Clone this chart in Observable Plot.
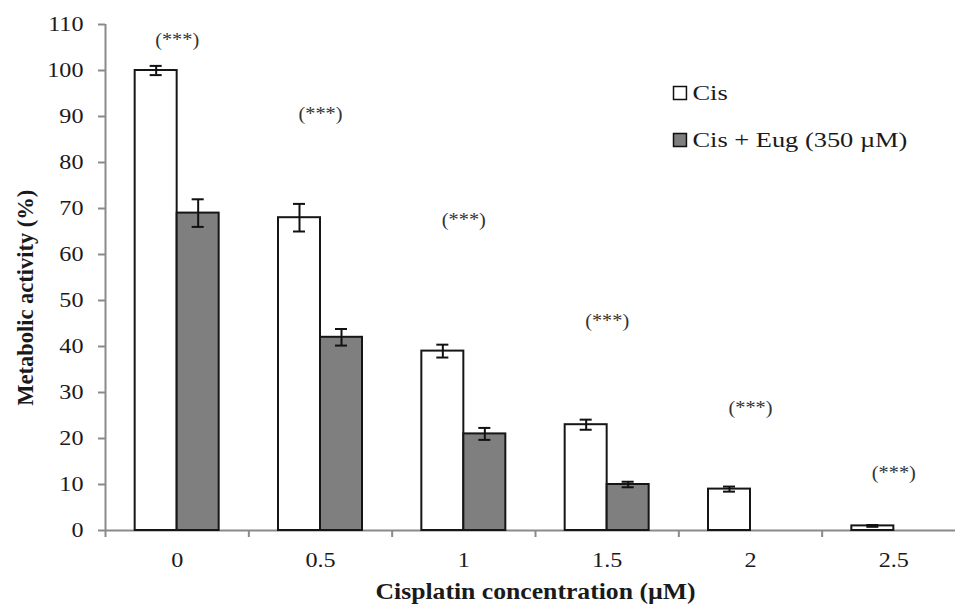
<!DOCTYPE html>
<html>
<head>
<meta charset="utf-8">
<script src="https://cdn.jsdelivr.net/npm/d3@7"></script>
<script src="https://cdn.jsdelivr.net/npm/@observablehq/plot@0.6"></script>
<style>
html, body { margin: 0; padding: 0; background: #ffffff; }
#chart svg { display: block; }
</style>
</head>
<body>
<div id="chart"></div>
<script>
// ---- data ----
const concentrations = ["0", "0.5", "1", "1.5", "2", "2.5"];
const cisValues = [100, 68, 39, 23, 9, 1];
const cisErrors = [1, 3, 1.4, 1.1, 0.55, 0.2];
const eugValues = [69, 42, 21, 10, 0, 0];
const eugErrors = [3, 1.8, 1.3, 0.6, 0, 0];
const seriesNames = ["Cis", "Cis + Eug (350 µM)"];
const seriesFills = ["#ffffff", "#7f7f7f"];
const sigLabels = ["(***)", "(***)", "(***)", "(***)", "(***)", "(***)"];
const sigHeights = [106.5, 90.5, 67.5, 45.5, 26.5, 12.5];
const yTicks = [0, 10, 20, 30, 40, 50, 60, 70, 80, 90, 100, 110];
const yTitle = "Metabolic activity (%)";
const xTitle = "Cisplatin concentration (µM)";

// ---- layout constants (in scale units) ----
const barStart = 0.207, barMid = 0.5, barEnd = 0.793;
const capHalf = 0.042;
const legendX = 4.008;
const legendY = [95.1, 84.9];

const serif = "'Liberation Serif', 'Times New Roman', serif";
const axisGray = "#8a8a8a";
const ink = "#1a1a1a";

const rows = [];
concentrations.forEach((c, i) => {
  rows.push({i, conc: c, series: seriesNames[0], value: cisValues[i], err: cisErrors[i], x1: i + barStart, x2: i + barMid});
  rows.push({i, conc: c, series: seriesNames[1], value: eugValues[i], err: eugErrors[i], x1: i + barMid, x2: i + barEnd});
});
const bars = rows.filter(d => d.value > 0);
const mid = d => (d.x1 + d.x2) / 2;

const chart = Plot.plot({
  width: 955,
  height: 613,
  marginLeft: 105,
  marginRight: 0,
  marginTop: 24,
  marginBottom: 83,
  style: {fontFamily: serif, background: "#ffffff", color: ink},
  x: {domain: [0, concentrations.length], range: [105, 965]},
  y: {domain: [0, 110]},
  color: {domain: seriesNames, range: seriesFills},
  marks: [
    Plot.axisY({ticks: yTicks, tickSize: 7, tickPadding: 15, fontSize: 21, stroke: axisGray, strokeWidth: 2, fill: ink, label: null}),
    Plot.axisX({ticks: d3.range(0, concentrations.length + 1), tickSize: 7, tickFormat: () => "", stroke: axisGray, strokeWidth: 2, label: null}),
    Plot.axisX({ticks: concentrations.map((c, i) => i + 0.5), tickSize: 0, tickPadding: 22, tickFormat: v => concentrations[Math.floor(v)], fontSize: 21, fill: ink, label: null}),
    Plot.ruleX([0], {stroke: axisGray, strokeWidth: 2}),
    Plot.ruleY([0], {stroke: axisGray, strokeWidth: 2}),
    Plot.rect(bars, {x1: "x1", x2: "x2", y1: 0, y2: "value", fill: "series", stroke: "#161616", strokeWidth: 2}),
    Plot.ruleX(bars, {x: mid, y1: d => d.value - d.err, y2: d => d.value + d.err, stroke: "#111", strokeWidth: 2}),
    Plot.ruleY(bars, {y: d => d.value + d.err, x1: d => mid(d) - capHalf, x2: d => mid(d) + capHalf, stroke: "#111", strokeWidth: 2}),
    Plot.ruleY(bars, {y: d => d.value - d.err, x1: d => mid(d) - capHalf, x2: d => mid(d) + capHalf, stroke: "#111", strokeWidth: 2}),
    Plot.text(concentrations, {x: (d, i) => i + 0.5, y: (d, i) => sigHeights[i], text: (d, i) => sigLabels[i], fontSize: 18, fill: "#333"}),
    Plot.dot(seriesNames, {x: () => legendX, y: (d, i) => legendY[i], symbol: "square", r: 7.3, fill: d => d, stroke: "#111", strokeWidth: 1.5}),
    Plot.text(seriesNames, {x: () => legendX, y: (d, i) => legendY[i], text: d => d, textAnchor: "start", dx: 12.5, fontSize: 22, fill: ink}),
    Plot.text([yTitle], {frameAnchor: "left", y: () => 50.6, dx: -80, rotate: -90, textAnchor: "middle", text: d => d, fontSize: 22.5, fontWeight: "bold", fill: ink}),
    Plot.text([xTitle], {x: () => concentrations.length / 2, frameAnchor: "bottom", dy: 68, text: d => d, fontSize: 24, fontWeight: "bold", fill: ink})
  ]
});

document.getElementById("chart").appendChild(chart);

// The reference's lettering is slightly wider than Times: stretch horizontal texts.
chart.querySelectorAll("text").forEach(t => {
  const s = t.textContent;
  let f;
  if (s === yTitle) return;
  else if (s === xTitle) f = 1.07;
  else if (seriesNames.includes(s)) f = 1.2;
  else if (s === "(***)") f = 1.13;
  else f = 1.15;
  const len = t.getComputedTextLength();
  if (len > 0) {
    t.setAttribute("textLength", (len * f).toFixed(2));
    t.setAttribute("lengthAdjust", "spacingAndGlyphs");
  }
});
</script>
</body>
</html>
